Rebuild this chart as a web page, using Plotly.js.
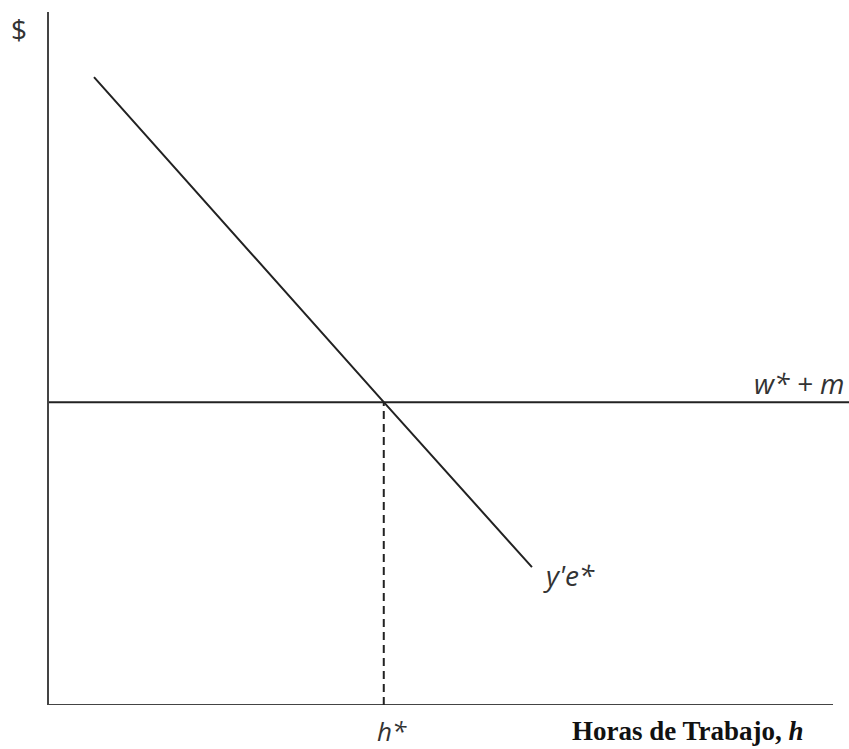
<!DOCTYPE html>
<html>
<head>
<meta charset="utf-8">
<script src="https://cdn.plot.ly/plotly-3.0.1.min.js"></script>
<style>html,body{margin:0;padding:0;background:#fff;}#chart{width:849px;height:749px;}</style>
</head>
<body>
<div id="chart"></div>
<script>
// Data (chart units: 0-100 on each axis)
const demandX = [5.74, 42.7, 61.6];
const demandY = [90.6, 43.7, 19.9];
const wageX = [0, 102.04];
const wageY = [43.7, 43.7];
const hStarX = [42.7, 42.7];
const hStarY = [0, 43.7];
const xAxisX = [0, 100];
const xAxisY = [0, 0];
const labels = ["$", "w* + m", "y'e*", "h*", "Horas de Trabajo, <i>h</i>"];

const traces = [
  {x: xAxisX, y: xAxisY, mode: 'lines', line: {color: '#444', width: 2}, hoverinfo: 'skip'},
  {x: wageX, y: wageY, mode: 'lines', line: {color: '#222', width: 2}, hoverinfo: 'skip'},
  {x: hStarX, y: hStarY, mode: 'lines', line: {color: '#222', width: 2, dash: '8px,5px'}, hoverinfo: 'skip'},
  {x: demandX, y: demandY, mode: 'lines', line: {color: '#222', width: 2}, hoverinfo: 'skip'}
];

const sans = {family: 'Open Sans, sans-serif', size: 28, color: '#333'};
const layout = {
  width: 849, height: 749,
  margin: {l: 49, r: 0, t: 12, b: 44},
  showlegend: false,
  paper_bgcolor: '#fff', plot_bgcolor: '#fff',
  xaxis: {range: [0, 102.04], showgrid: false, zeroline: false, showticklabels: false, ticks: '', showline: false, fixedrange: true},
  yaxis: {range: [0, 100], showgrid: false, zeroline: false, showticklabels: false, ticks: '', showline: true, linecolor: '#444', linewidth: 2, fixedrange: true},
  annotations: [
    {xref: 'paper', yref: 'paper', x: -0.0375, y: 0.975, text: labels[0], showarrow: false, xanchor: 'center', yanchor: 'middle', font: {family: 'Open Sans, sans-serif', size: 28, color: '#333'}},
    {x: 95.6, y: 46.5, text: '<i>' + labels[1] + '</i>', showarrow: false, xanchor: 'center', yanchor: 'middle', font: sans},
    {x: 66.3, y: 18.8, text: '<i>' + labels[2] + '</i>', showarrow: false, xanchor: 'center', yanchor: 'middle', font: sans},
    {xref: 'paper', yref: 'paper', x: 0.42875, y: -0.0375, text: '<i>' + labels[3] + '</i>', showarrow: false, xanchor: 'center', yanchor: 'middle', font: {family: 'Open Sans, sans-serif', size: 26, color: '#333'}},
    {xref: 'paper', yref: 'paper', x: 0.79875, y: -0.0375, text: '<b>' + labels[4] + '</b>', showarrow: false, xanchor: 'center', yanchor: 'middle', font: {family: 'Liberation Serif, serif', size: 27, color: '#111'}}
  ]
};
Plotly.newPlot('chart', traces, layout, {displayModeBar: false, staticPlot: true});
</script>
</body>
</html>
